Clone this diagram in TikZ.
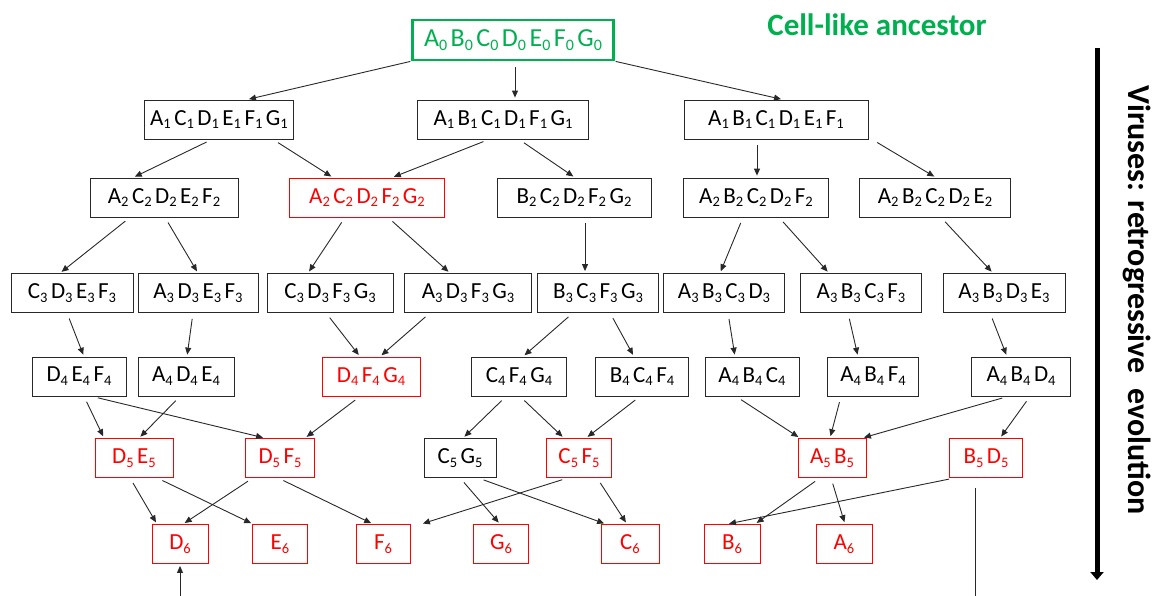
\documentclass[tikz,border=0pt]{standalone}
\usepackage{fontspec}
\setmainfont{Carlito}
\usetikzlibrary{arrows.meta}
\definecolor{anc}{RGB}{0, 176, 80}
\definecolor{lossred}{RGB}{255, 0, 0}
\definecolor{ln}{RGB}{40, 40, 40}
\def\subsize{14.5}
\newcommand{\gsub}[1]{\raisebox{-0.17em}{\fontsize{\subsize}{\subsize}\selectfont #1}}
\newcommand{\genes}[2]{\foreach \gn [count=\gi] in {#2}{\ifnum\gi>1\hspace{3.5pt}\fi\gn\gsub{#1}}}
\tikzset{
  gbox/.style={draw=ln, line width=0.8pt, minimum height=39pt, inner sep=0pt, text=black,
    font=\fontsize{23}{27}\selectfont},
  lost/.style={gbox, draw=lossred, text=lossred},
  root/.style={gbox, draw=anc, line width=2.4pt, text=anc, minimum height=40pt,
    font=\fontsize{26}{30}\selectfont\def\subsize{16}},
  arr/.style={-{Triangle[length=7pt,width=6pt]}, line width=0.9pt, draw=ln, shorten <=6pt, shorten >=2pt},
}
\begin{document}
\begin{tikzpicture}
\useasboundingbox (0,0) rectangle (1159pt,-596pt);
% ancestor
\node (g0) [root, minimum width=201pt] at (513pt, -40pt) {\genes{0}{A,B,C,D,E,F,G}};
\node (title) [text=anc, font=\fontsize{31}{36}\selectfont\bfseries] at (877pt, -25pt) {Cell-like ancestor};
% row 1
\node (r1a) [gbox, minimum width=149pt] at (219pt, -119.5pt) {\genes{1}{A,C,D,E,F,G}};
\node (r1b) [gbox, minimum width=171pt] at (503pt, -119.5pt) {\genes{1}{A,B,C,D,F,G}};
\node (r1c) [gbox, minimum width=184pt] at (776pt, -119.5pt) {\genes{1}{A,B,C,D,E,F}};
% row 2
\node (r2a) [gbox, minimum width=148pt] at (164pt, -197.5pt) {\genes{2}{A,C,D,E,F}};
\node (r2b) [lost, minimum width=155pt] at (367pt, -197.5pt) {\genes{2}{A,C,D,F,G}};
\node (r2c) [gbox, minimum width=154pt] at (574pt, -197.5pt) {\genes{2}{B,C,D,F,G}};
\node (r2d) [gbox, minimum width=145pt] at (756pt, -197.5pt) {\genes{2}{A,B,C,D,F}};
\node (r2e) [gbox, minimum width=151pt] at (935pt, -197.5pt) {\genes{2}{A,B,C,D,E}};
% row 3
\node (r3a) [gbox, minimum width=122pt] at (72pt, -293pt) {\genes{3}{C,D,E,F}};
\node (r3b) [gbox, minimum width=120pt] at (198pt, -293pt) {\genes{3}{A,D,E,F}};
\node (r3c) [gbox, minimum width=126pt] at (330pt, -293pt) {\genes{3}{C,D,F,G}};
\node (r3d) [gbox, minimum width=127pt] at (468pt, -293pt) {\genes{3}{A,D,F,G}};
\node (r3e) [gbox, minimum width=121pt] at (598pt, -293pt) {\genes{3}{B,C,F,G}};
\node (r3f) [gbox, minimum width=121pt] at (724pt, -293pt) {\genes{3}{A,B,C,D}};
\node (r3g) [gbox, minimum width=121pt] at (861pt, -293pt) {\genes{3}{A,B,C,F}};
\node (r3h) [gbox, minimum width=122pt] at (1004pt, -293pt) {\genes{3}{A,B,D,E}};
% row 4
\node (r4a) [gbox, minimum width=94pt] at (79pt, -376.5pt) {\genes{4}{D,E,F}};
\node (r4b) [gbox, minimum width=96pt] at (186pt, -376.5pt) {\genes{4}{A,D,E}};
\node (r4c) [lost, minimum width=98pt] at (371pt, -376.5pt) {\genes{4}{D,F,G}};
\node (r4d) [gbox, minimum width=95pt] at (519pt, -376.5pt) {\genes{4}{C,F,G}};
\node (r4e) [gbox, minimum width=93pt] at (642pt, -376.5pt) {\genes{4}{B,C,F}};
\node (r4f) [gbox, minimum width=94pt] at (752pt, -376.5pt) {\genes{4}{A,B,C}};
\node (r4g) [gbox, minimum width=91pt] at (873pt, -376.5pt) {\genes{4}{A,B,F}};
\node (r4h) [gbox, minimum width=99pt] at (1021pt, -376.5pt) {\genes{4}{A,B,D}};
% row 5
\node (r5a) [lost, minimum width=78pt] at (134pt, -458pt) {\genes{5}{D,E}};
\node (r5b) [lost, minimum width=69pt] at (280pt, -458pt) {\genes{5}{D,F}};
\node (r5c) [gbox, minimum width=72pt] at (460pt, -458pt) {\genes{5}{C,G}};
\node (r5d) [lost, minimum width=65pt] at (579pt, -458pt) {\genes{5}{C,F}};
\node (r5e) [lost, minimum width=68pt] at (832pt, -458pt) {\genes{5}{A,B}};
\node (r5f) [lost, minimum width=73pt] at (986pt, -458pt) {\genes{5}{B,D}};
% row 6
\node (r6a) [lost, minimum width=56pt] at (180pt, -544pt) {\genes{6}{D}};
\node (r6b) [lost, minimum width=55pt] at (280pt, -544pt) {\genes{6}{E}};
\node (r6c) [lost, minimum width=54pt] at (383pt, -544pt) {\genes{6}{F}};
\node (r6d) [lost, minimum width=55pt] at (501pt, -544pt) {\genes{6}{G}};
\node (r6e) [lost, minimum width=58pt] at (630pt, -544pt) {\genes{6}{C}};
\node (r6f) [lost, minimum width=56pt] at (732pt, -544pt) {\genes{6}{B}};
\node (r6g) [lost, minimum width=56pt] at (844pt, -544pt) {\genes{6}{A}};
% time axis
\coordinate (ttop) at (1097pt, -48pt);
\coordinate (tbot) at (1097pt, -580pt);
\draw [line width=5pt, -{Triangle[length=8pt,width=13pt]}] (ttop) -- (tbot);
\node (axis) [rotate=-90, font=\fontsize{32}{36}\selectfont\bfseries] at (1137pt, -300pt) {Viruses: retrogressive \ evolution};
% row 0 -> 1
\draw [arr, shorten <=1pt] (g0.south west) -- ([xshift=28pt]r1a.north);
\draw [arr] ([xshift=2pt]g0.south) -- ([xshift=12pt]r1b.north);
\draw [arr, shorten <=1pt] (g0.south east) -- ([xshift=7pt]r1c.north);
% row 1 -> 2
\draw [arr] ([xshift=-7pt]r1a.south) -- ([xshift=-31pt]r2a.north);
\draw [arr] ([xshift=54pt]r1a.south) -- ([xshift=-34pt]r2b.north);
\draw [arr] ([xshift=-14pt]r1b.south) -- ([xshift=25pt]r2b.north);
\draw [arr] ([xshift=16pt]r1b.south) -- ([xshift=1pt]r2c.north);
\draw [arr] ([xshift=-19pt]r1c.south) -- ([xshift=1pt]r2d.north);
\draw [arr] ([xshift=96pt]r1c.south) -- ([xshift=1pt]r2e.north);
% row 2 -> 3
\draw [arr] ([xshift=-34pt]r2a.south) -- ([xshift=-12pt]r3a.north);
\draw [arr] ([xshift=1pt]r2a.south) -- (r3b.north);
\draw [arr] ([xshift=-22pt]r2b.south) -- ([xshift=-22pt]r3c.north);
\draw [arr] ([xshift=21pt]r2b.south) -- ([xshift=-18pt]r3d.north);
\draw [arr] ([xshift=11pt]r2c.south) -- ([xshift=-13pt]r3e.north);
\draw [arr] ([xshift=-13pt]r2d.south) -- ([xshift=-4pt]r3f.north);
\draw [arr] ([xshift=23pt]r2d.south) -- ([xshift=-32pt]r3g.north);
\draw [arr] ([xshift=6pt]r2e.south) -- ([xshift=-11pt]r3h.north);
% row 3 -> 4
\draw [arr] ([xshift=-5pt]r3a.south) -- ([xshift=5pt]r4a.north);
\draw [arr] ([xshift=-5pt]r3b.south) -- ([xshift=1pt]r4b.north);
\draw [arr] ([xshift=-4pt]r3c.south) -- ([xshift=-11pt]r4c.north);
\draw [arr] ([xshift=-38pt]r3d.south) -- ([xshift=9pt]r4c.north);
\draw [arr] ([xshift=-25pt]r3e.south) -- ([xshift=4pt]r4d.north);
\draw [arr] ([xshift=12pt]r3e.south) -- ([xshift=-8pt]r4e.north);
\draw [arr] ([xshift=4pt]r3f.south) -- ([xshift=-17pt]r4f.north);
\draw [arr] ([xshift=-13pt]r3g.south) -- ([xshift=-15pt]r4g.north);
\draw [arr] ([xshift=-14pt]r3h.south) -- ([xshift=-14pt]r4h.north);
% row 4 -> 5
\draw [arr] ([xshift=5pt]r4a.south) -- ([xshift=-30pt]r5a.north);
\draw [arr] ([xshift=-6pt]r4b.south) -- ([xshift=5pt]r5a.north);
\draw [arr] ([xshift=13pt]r4a.south) -- ([xshift=-15pt]r5b.north);
\draw [arr] ([xshift=-11pt]r4c.south) -- ([xshift=25pt]r5b.north);
\draw [arr] ([xshift=-13pt]r4d.south) -- ([xshift=3pt]r5c.north);
\draw [arr] ([xshift=1pt]r4d.south) -- ([xshift=-15pt]r5d.north);
\draw [arr] ([xshift=-2pt]r4e.south) -- ([xshift=7pt]r5d.north);
\draw [arr] ([xshift=-16pt]r4f.south) -- ([xshift=-32pt]r5e.north);
\draw [arr] ([xshift=-32pt]r4g.south) -- ([xshift=-2pt]r5e.north);
\draw [arr] ([xshift=-13pt]r4h.south) -- ([xshift=30pt]r5e.north);
\draw [arr] ([xshift=9pt]r4h.south) -- ([xshift=14pt]r5f.north);
% row 5 -> 6
\draw [arr] ([xshift=-4pt]r5a.south) -- ([xshift=-23pt]r6a.north);
\draw [arr] ([xshift=23pt]r5a.south) -- ([xshift=-27pt]r6b.north);
\draw [arr] ([xshift=-27pt]r5b.south) -- ([xshift=3pt]r6a.north);
\draw [arr] ([xshift=-2pt]r5b.south) -- ([xshift=-10pt]r6c.north);
\draw [arr] (r5c.south) -- ([xshift=-1pt]r6d.north);
\draw [arr] ([xshift=18pt]r5c.south) -- ([xshift=-24pt]r6e.north);
\draw [arr] ([xshift=-11pt]r5d.south) -- ([xshift=38pt]r6c.north);
\draw [arr] ([xshift=18pt]r5d.south) -- ([xshift=-3pt]r6e.north);
\draw [arr] ([xshift=-12pt]r5e.south) -- ([xshift=23pt]r6f.north);
\draw [arr] ([xshift=-1pt]r5e.south) -- ([xshift=1pt]r6g.north);
\draw [arr] ([xshift=-31pt]r5f.south) -- ([xshift=-5pt]r6f.north);
% lines leaving the bottom
\coordinate (outa) at (180pt, -596pt);
\coordinate (outf) at (975pt, -596pt);
\draw [line width=0.9pt, draw=ln, shorten <=10pt] ([xshift=-11pt]r5f.south) -- (outf);
\draw [arr, shorten <=0pt] (outa) -- (r6a.south);
\end{tikzpicture}
\end{document}
